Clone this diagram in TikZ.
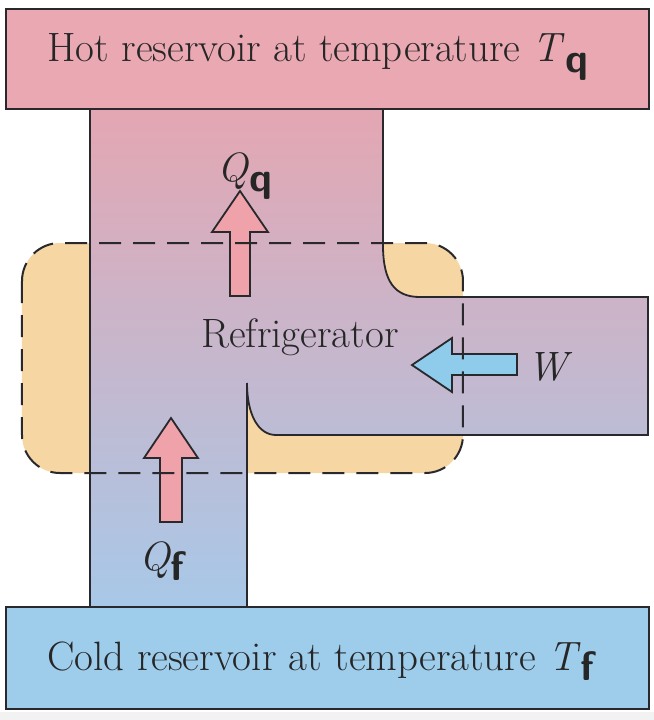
\documentclass[tikz,border=0pt]{standalone}
\usepackage{tikz}
\usetikzlibrary{positioning}
\definecolor{hotpink}{RGB}{233,168,178}
\definecolor{coldblue}{RGB}{158,205,236}
\definecolor{pipetop}{RGB}{228,166,178}
\definecolor{pipebot}{RGB}{168,200,232}
\definecolor{fridgeorange}{RGB}{246,214,162}
\definecolor{heatpink}{RGB}{239,162,170}
\definecolor{workblue}{RGB}{143,203,234}
\definecolor{edge}{RGB}{40,40,45}
\tikzset{wall/.style = {draw=edge, line width=0.9pt}}
\tikzset{fatarrow/.style = {draw=edge, line width=0.9pt, line join=miter}}
\tikzset{lbl/.style = {inner sep=0, font=\fontsize{20.5}{24}\selectfont, text=black!85}}
\newcommand{\sub}[1]{\raisebox{-0.6ex}{\sffamily\bfseries #1}}

\begin{document}
\begin{tikzpicture}[x=0.5pt, y=-0.5pt]
      \useasboundingbox (0, 0) rectangle (654, 720);
      \fill [gray!10] (0, 712) rectangle (654, 720);
      % refrigerator boundary
      \fill [fridgeorange, rounded corners=19] (22, 243) rectangle (463, 473);
      % pipe
      \shade [top color=pipetop, bottom color=pipebot] (90, 108) -- (383, 108) -- (383, 245)
            .. controls (383, 282) and (395, 297) .. (420, 297) -- (648, 297) -- (648, 435)
            -- (276, 435) .. controls (258, 435) and (247, 414) .. (247, 383) -- (247, 606)
            -- (90, 606) -- cycle;
      \draw [wall] (90, 606) -- (90, 108);
      \draw [wall] (383, 108) -- (383, 245) .. controls (383, 282) and (395, 297) .. (420, 297)
            -- (648, 297) -- (648, 435) -- (276, 435) .. controls (258, 435) and (247, 414) .. (247, 383)
            -- (247, 606);
      % reservoirs
      \node [wall, fill=hotpink, minimum width=321.5pt, minimum height=50pt, anchor=north west] (hot) at (5, 8) {};
      \node [wall, fill=coldblue, minimum width=321.5pt, minimum height=51pt, anchor=north west] (cold) at (5, 606) {};
      \node [lbl] (hottext) at (318, 57) {Hot reservoir at temperature \textit{T}\sub{q}};
      \node [lbl] (coldtext) at (321, 661) {Cold reservoir at temperature \textit{T}\sub{f}};
      % heat and work arrows
      \draw [fatarrow, fill=heatpink] (230, 296) -- (230, 232) -- (212, 232) -- (240, 191) -- (268, 232) -- (250, 232) -- (250, 296) -- cycle;
      \draw [fatarrow, fill=heatpink] (160, 522) -- (160, 458) -- (144, 458) -- (171, 418) -- (198, 458) -- (182, 458) -- (182, 522) -- cycle;
      \draw [fatarrow, fill=workblue] (517, 354) -- (452, 354) -- (452, 338) -- (412, 365) -- (452, 392) -- (452, 375) -- (517, 375) -- cycle;
      \draw [edge, line width=1pt, dash pattern=on 11pt off 6pt, rounded corners=19] (22, 243) rectangle (463, 473);
      % labels
      \node [lbl] (fridge) at (300, 337) {Refrigerator};
      \node [lbl] (qq) at (245, 176) {\textit{Q}\sub{q}};
      \node [lbl] (qf) at (162, 561) {\textit{Q}\sub{f}};
      \node [lbl] (w) at (550, 367) {\textit{W}};
    \end{tikzpicture}
\end{document}
